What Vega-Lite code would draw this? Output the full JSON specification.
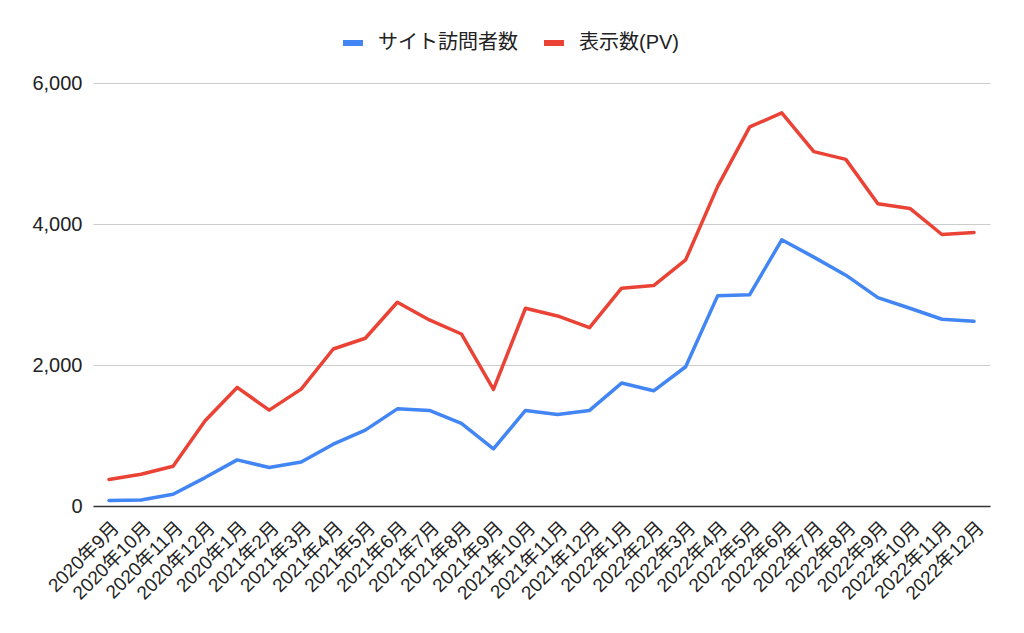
{
  "$schema": "https://vega.github.io/schema/vega-lite/v6.json",
  "width": 897,
  "height": 423,
  "autosize": "none",
  "padding": {"left": 93, "top": 83, "right": 34, "bottom": 127},
  "background": "white",
  "config": {
    "view": {"stroke": null},
    "font": "Liberation Sans, Noto Sans CJK JP"
  },
  "datasets": {
    "d": [
      {"m": "2020年9月", "s": "サイト訪問者数", "v": 77},
      {"m": "2020年10月", "s": "サイト訪問者数", "v": 85},
      {"m": "2020年11月", "s": "サイト訪問者数", "v": 166},
      {"m": "2020年12月", "s": "サイト訪問者数", "v": 403},
      {"m": "2020年1月", "s": "サイト訪問者数", "v": 654},
      {"m": "2021年2月", "s": "サイト訪問者数", "v": 546},
      {"m": "2021年3月", "s": "サイト訪問者数", "v": 625},
      {"m": "2021年4月", "s": "サイト訪問者数", "v": 877},
      {"m": "2021年5月", "s": "サイト訪問者数", "v": 1076},
      {"m": "2021年6月", "s": "サイト訪問者数", "v": 1378},
      {"m": "2021年7月", "s": "サイト訪問者数", "v": 1356},
      {"m": "2021年8月", "s": "サイト訪問者数", "v": 1171},
      {"m": "2021年9月", "s": "サイト訪問者数", "v": 810},
      {"m": "2021年10月", "s": "サイト訪問者数", "v": 1356},
      {"m": "2021年11月", "s": "サイト訪問者数", "v": 1299},
      {"m": "2021年12月", "s": "サイト訪問者数", "v": 1356},
      {"m": "2022年1月", "s": "サイト訪問者数", "v": 1744},
      {"m": "2022年2月", "s": "サイト訪問者数", "v": 1634},
      {"m": "2022年3月", "s": "サイト訪問者数", "v": 1975},
      {"m": "2022年4月", "s": "サイト訪問者数", "v": 2984},
      {"m": "2022年5月", "s": "サイト訪問者数", "v": 2998},
      {"m": "2022年6月", "s": "サイト訪問者数", "v": 3776},
      {"m": "2022年7月", "s": "サイト訪問者数", "v": 3530},
      {"m": "2022年8月", "s": "サイト訪問者数", "v": 3274},
      {"m": "2022年9月", "s": "サイト訪問者数", "v": 2956},
      {"m": "2022年10月", "s": "サイト訪問者数", "v": 2805},
      {"m": "2022年11月", "s": "サイト訪問者数", "v": 2649},
      {"m": "2022年12月", "s": "サイト訪問者数", "v": 2620},
      {"m": "2020年9月", "s": "表示数(PV)", "v": 375},
      {"m": "2020年10月", "s": "表示数(PV)", "v": 450},
      {"m": "2020年11月", "s": "表示数(PV)", "v": 564},
      {"m": "2020年12月", "s": "表示数(PV)", "v": 1208},
      {"m": "2020年1月", "s": "表示数(PV)", "v": 1682},
      {"m": "2021年2月", "s": "表示数(PV)", "v": 1360},
      {"m": "2021年3月", "s": "表示数(PV)", "v": 1658},
      {"m": "2021年4月", "s": "表示数(PV)", "v": 2227},
      {"m": "2021年5月", "s": "表示数(PV)", "v": 2379},
      {"m": "2021年6月", "s": "表示数(PV)", "v": 2890},
      {"m": "2021年7月", "s": "表示数(PV)", "v": 2639},
      {"m": "2021年8月", "s": "表示数(PV)", "v": 2440},
      {"m": "2021年9月", "s": "表示数(PV)", "v": 1654},
      {"m": "2021年10月", "s": "表示数(PV)", "v": 2805},
      {"m": "2021年11月", "s": "表示数(PV)", "v": 2696},
      {"m": "2021年12月", "s": "表示数(PV)", "v": 2530},
      {"m": "2022年1月", "s": "表示数(PV)", "v": 3089},
      {"m": "2022年2月", "s": "表示数(PV)", "v": 3127},
      {"m": "2022年3月", "s": "表示数(PV)", "v": 3492},
      {"m": "2022年4月", "s": "表示数(PV)", "v": 4533},
      {"m": "2022年5月", "s": "表示数(PV)", "v": 5377},
      {"m": "2022年6月", "s": "表示数(PV)", "v": 5576},
      {"m": "2022年7月", "s": "表示数(PV)", "v": 5026},
      {"m": "2022年8月", "s": "表示数(PV)", "v": 4917},
      {"m": "2022年9月", "s": "表示数(PV)", "v": 4287},
      {"m": "2022年10月", "s": "表示数(PV)", "v": 4221},
      {"m": "2022年11月", "s": "表示数(PV)", "v": 3851},
      {"m": "2022年12月", "s": "表示数(PV)", "v": 3880}
    ]
  },
  "data": {"name": "d"},
  "mark": {"type": "line", "strokeWidth": 3.5, "strokeJoin": "round", "strokeCap": "round"},
  "encoding": {
    "x": {
      "field": "m",
      "type": "ordinal",
      "sort": null,
      "scale": {"type": "point", "padding": 0.5},
      "axis": {
        "title": null,
        "labelAngle": -45,
        "labelAlign": "right",
        "labelBaseline": "top",
        "labelFontSize": 19,
        "labelColor": "#222222",
        "labelPadding": 12,
        "labelDx": 6,
        "ticks": false,
        "grid": false,
        "domainColor": "#333333",
        "domainWidth": 1.5,
        "labelOverlap": false
      }
    },
    "y": {
      "field": "v",
      "type": "quantitative",
      "scale": {"domain": [0, 6000], "nice": false},
      "axis": {
        "title": null,
        "values": [0, 2000, 4000, 6000],
        "format": ",d",
        "labelFontSize": 20,
        "labelColor": "#222222",
        "labelPadding": 11,
        "ticks": false,
        "domain": false,
        "gridColor": "#cccccc",
        "gridWidth": 1
      }
    },
    "color": {
      "field": "s",
      "type": "nominal",
      "scale": {"domain": ["サイト訪問者数", "表示数(PV)"], "range": ["#4285F4", "#EA4335"]},
      "legend": {
        "title": null,
        "orient": "none",
        "direction": "horizontal",
        "legendX": 247,
        "legendY": -53,
        "symbolType": "stroke",
        "symbolSize": 400,
        "symbolStrokeWidth": 6,
        "labelFontSize": 20,
        "labelColor": "#222222",
        "labelOffset": 12,
        "columnPadding": 14
      }
    }
  }
}
